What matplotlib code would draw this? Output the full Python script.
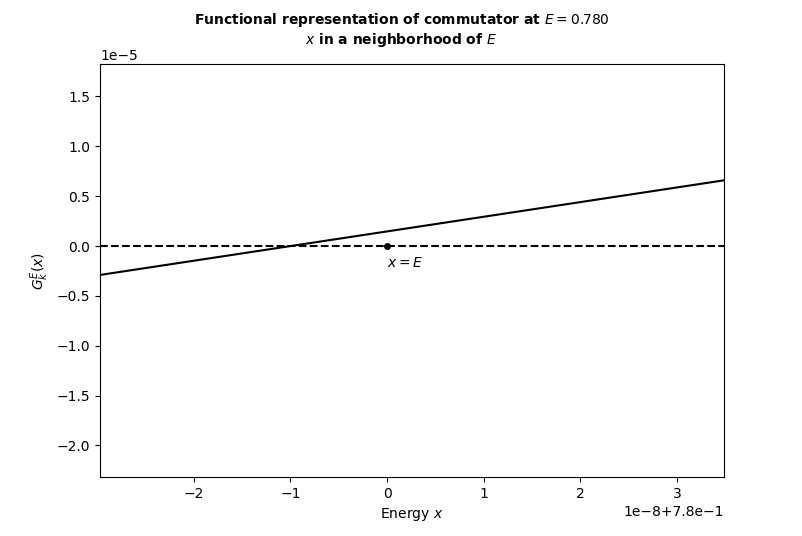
import matplotlib
matplotlib.use('Agg')
import matplotlib.pyplot as plt
import numpy as np

# Energy point and neighbourhood
E = 0.78
x_vals = [E - 2.97e-8, E + 3.49e-8]
G_vals = [-0.29e-5, 0.66e-5]

xlim = (E - 2.97e-8, E + 3.485e-8)
ylim = (-2.317e-5, 1.826e-5)

fig, ax = plt.subplots(figsize=(8.03, 5.36), dpi=100)

ax.plot(x_vals, G_vals, color='black', linewidth=1.5)
ax.axhline(0, color='black', linestyle='--', linewidth=1.5)
ax.plot([E], [0], 'o', color='black', markersize=4)
ax.annotate('$x = E$', xy=(E, 0), xytext=(0, -7), textcoords='offset points',
            ha='left', va='top', fontsize=10)

ax.set_xlim(*xlim)
ax.set_ylim(*ylim)
ax.set_xlabel('Energy $x$')
ax.set_ylabel('$G^E_k(x)$')
fig.suptitle('Functional representation of commutator at $E = 0.780$\n'
             '$x$ in a neighborhood of $E$', fontsize=10, fontweight='bold',
             y=0.98)

fig.subplots_adjust(left=0.1245, right=0.9016, bottom=0.110, top=0.8806)
fig.savefig('out.png', dpi=100)
